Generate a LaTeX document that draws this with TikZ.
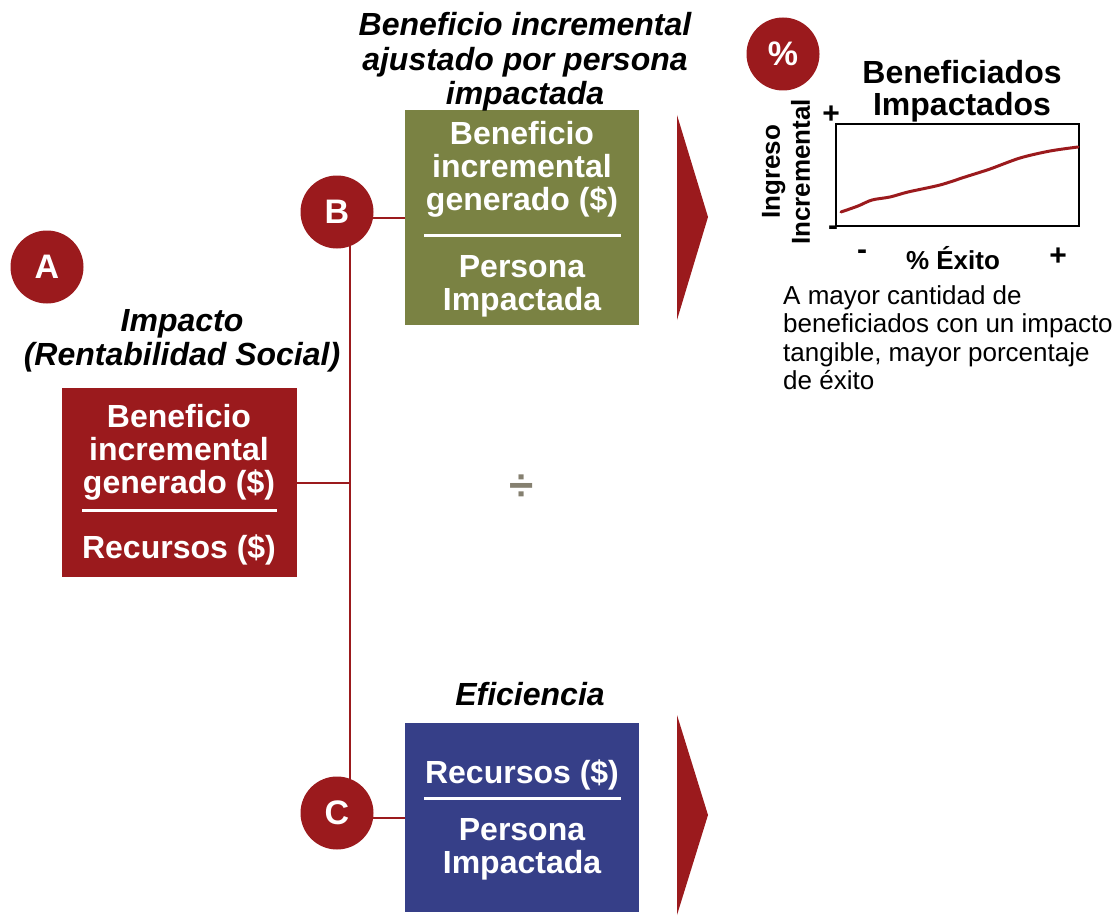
\documentclass[tikz,border=0pt]{standalone}
\usepackage{fontspec}
\setmainfont{Liberation Sans}
\usetikzlibrary{backgrounds}
\definecolor{dred}{HTML}{9B1A1D}
\definecolor{olive}{HTML}{7A8243}
\definecolor{navy}{HTML}{363F88}
\definecolor{divgray}{HTML}{858070}
\tikzset{
  badge/.style={circle, fill=dred, minimum size=73pt, inner sep=0, text=white, font=\fontsize{34}{34}\selectfont\bfseries},
  box/.style={rectangle, inner sep=0},
  wt/.style={text=white, align=center, inner sep=0, font=\fontsize{32}{33}\selectfont\bfseries},
  ttl/.style={align=center, inner sep=0, font=\fontsize{32}{34.5}\selectfont\bfseries\itshape},
  conn/.style={draw=dred, line width=2.5pt},
  sep/.style={draw=white, line width=3pt},
  lbl/.style={inner sep=0, font=\fontsize{30}{30}\selectfont\bfseries},
}
\begin{document}
\begin{tikzpicture}[x=1pt,y=-1pt]
\useasboundingbox (0,0) rectangle (1118,915);

% boxes
\node[box, fill=dred, minimum width=235pt, minimum height=189pt] (boxA) at (179.5,482.5) {};
\node[box, fill=olive, minimum width=234pt, minimum height=215pt] (boxB) at (522,217.5) {};
\node[box, fill=navy, minimum width=234pt, minimum height=189pt] (boxC) at (522,817.5) {};

% box texts
\node[wt] (a1) at (179,452) {Beneficio\\incremental\\generado (\$)};
\draw[sep] (82,510) -- (277,510);
\node[wt] (a2) at (179,550) {Recursos (\$)};

\node[wt] (b1) at (522,169) {Beneficio\\incremental\\generado (\$)};
\draw[sep] (424,235) -- (621,235);
\node[wt] (b2) at (522,286) {Persona\\Impactada};

\node[wt] (c1) at (522,775) {Recursos (\$)};
\draw[sep] (424,798) -- (621,798);
\node[wt] (c2) at (522,849) {Persona\\Impactada};

% titles
\node[ttl] (tB) at (525,62) {Beneficio incremental\\ajustado por persona\\impactada};
\node[ttl] (tA) at (182,341) {Impacto\\(Rentabilidad Social)};
\node[ttl] (tC) at (530,694) {Eficiencia};

% badges
\node[badge] (A) at (47,267) {A};
\node[badge] (B) at (337,212) {B};
\node[badge] (C) at (337,813) {C};
\node[badge] (P) at (783,54) {\%};

% connectors
\coordinate (vx) at (350,0);
\coordinate (vj) at (350,483);
\coordinate (bj) at (350,218);
\coordinate (cj) at (350,818);
\begin{scope}[on background layer]
\draw[conn] (B.center -| vx) -- (C.center -| vx);
\draw[conn] (bj -| B.center) -- (bj -| boxB.west);
\draw[conn] (vj) -- (vj -| boxA.east);
\draw[conn] (cj -| C.center) -- (cj -| boxC.west);
\end{scope}

% triangles
\fill[dred] (677,115) -- (708,217) -- (677,320) -- cycle;
\fill[dred] (677,715) -- (708,815) -- (677,915) -- cycle;

% divide sign
\node[text=divgray, inner sep=0, font=\fontsize{44}{44}\selectfont\bfseries] (div) at (522,488) {÷};

% chart
\node[align=center, inner sep=0, font=\fontsize{32}{32}\selectfont\bfseries] (ct) at (962,91) {Beneficiados\\Impactados};
\draw[line width=2pt] (836,124) rectangle (1079,226);
\draw[dred, line width=3pt, line cap=round] plot[smooth, tension=0.5] coordinates {(841,212) (858,206) (872,200) (890,197) (908,192) (940,185) (965,177) (990,169) (1020,158) (1050,151) (1078,147)};
\node[lbl] (yp) at (831,115) {+};
\node[lbl] (ym) at (833,231) {-};
\node[rotate=90, align=center, inner sep=0, font=\fontsize{26}{30}\selectfont\bfseries] (yl) at (786,172) {Ingreso\\Incremental};
\node[lbl] (xm) at (862,255) {-};
\node[inner sep=0, font=\fontsize{26}{26}\selectfont\bfseries] (xl) at (953,258) {\% Éxito};
\node[lbl] (xp) at (1058,257) {+};
\node[anchor=north west, align=left, inner sep=0, font=\fontsize{26}{28.5}\selectfont] (desc) at (783,285) {A mayor cantidad de\\beneficiados con un impacto\\tangible, mayor porcentaje\\de éxito};
\end{tikzpicture}
\end{document}
